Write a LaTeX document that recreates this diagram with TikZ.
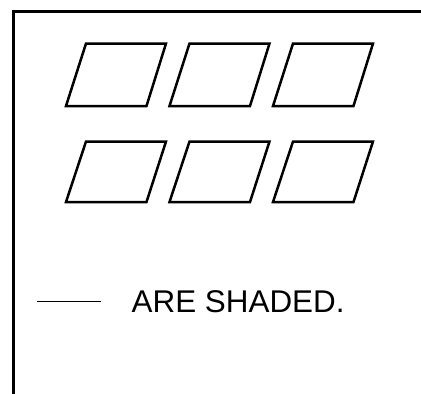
\documentclass[tikz,border=0pt]{standalone}
\usepackage{fontspec}
\setmainfont{Liberation Sans}
\begin{document}
\begin{tikzpicture}[x=1pt,y=-1pt,line join=miter]
    \useasboundingbox (0,0) rectangle (421,394);

    % frame
    \draw[line width=3pt] (13.5,394) -- (13.5,11) -- (421,11);

    % window panes
    \foreach \row/\top/\bot in {0/43.5/106, 1/141.5/202}{
        \foreach \col in {0,1,2}{
            \draw[line width=2.5pt] ({86+103.5*\col},\top) -- ({166+103.5*\col},\top)
                -- ({146.5+103.5*\col},\bot) -- ({66+103.5*\col},\bot) -- cycle;
        }
    }

    \node[anchor=base west,inner sep=0pt,font=\fontsize{31.4}{36}\selectfont] (note) at (131.5,312.7) {ARE SHADED.};
    \coordinate (blank) at (37,301);
    \draw[line width=1pt] (blank) -- ++(64,0);
\end{tikzpicture}
\end{document}
